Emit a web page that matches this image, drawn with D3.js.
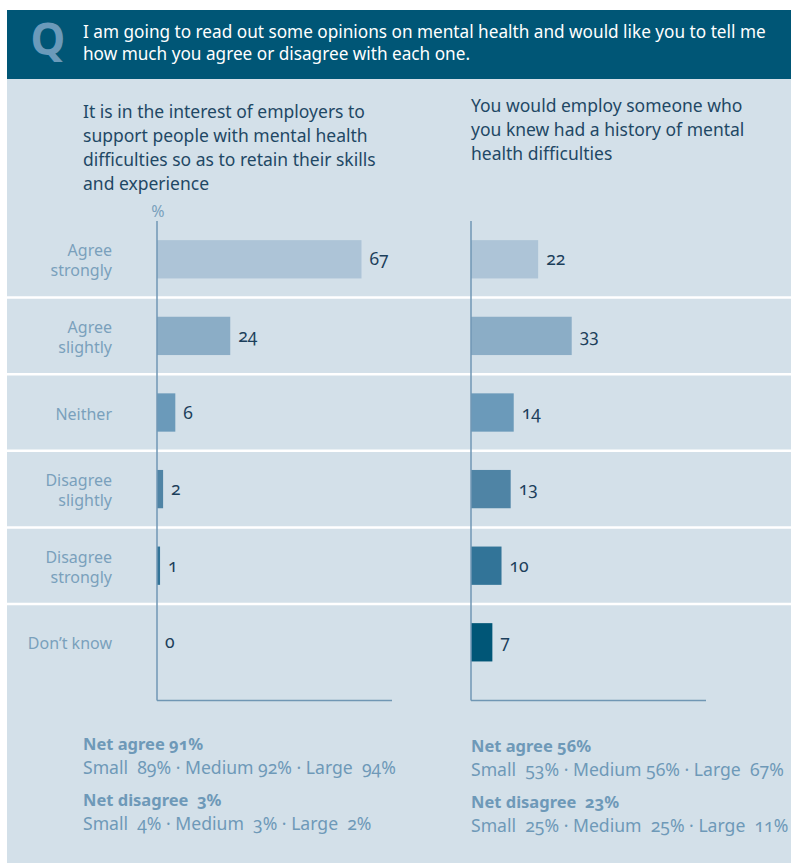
<!DOCTYPE html>
<html>
<head>
<meta charset="utf-8">
<script src="https://cdn.jsdelivr.net/npm/d3@7"></script>
<style>
  html, body { margin: 0; padding: 0; background: #ffffff; }
  svg { display: block; font-family: "Noto Sans", "Open Sans", sans-serif; }
  .num { font-variant-numeric: oldstyle-nums; font-feature-settings: "onum" 1; }
  .pre { white-space: pre; }
</style>
</head>
<body>
<svg id="chart" width="791" height="863"></svg>
<script>
// Survey answers, top to bottom
const categories = ["Agree strongly", "Agree slightly", "Neither", "Disagree slightly", "Disagree strongly", "Don't know"];
const categoryLines = [["Agree", "strongly"], ["Agree", "slightly"], ["Neither"], ["Disagree", "slightly"], ["Disagree", "strongly"], ["Don’t know"]];

// Percentages for each statement
const interestValues = [67, 24, 6, 2, 1, 0];
const employValues = [22, 33, 14, 13, 10, 7];

// Bar shades, light to dark
const barColors = ["#adc4d7", "#8badc6", "#6b9aba", "#4f84a5", "#327498", "#005677"];

const questionLines = [
  "I am going to read out some opinions on mental health and would like you to tell me",
  "how much you agree or disagree with each one."
];
const interestTitle = [
  "It is in the interest of employers to",
  "support people with mental health",
  "difficulties so as to retain their skills",
  "and experience"
];
const employTitle = [
  "You would employ someone who",
  "you knew had a history of mental",
  "health difficulties"
];

// Net scores by company size
const interestNotes = [
  { head: "Net agree 91%", detail: "Small  89% · Medium 92% · Large  94%" },
  { head: "Net disagree  3%", detail: "Small  4% · Medium  3% · Large  2%" }
];
const employNotes = [
  { head: "Net agree 56%", detail: "Small  53% · Medium 56% · Large  67%" },
  { head: "Net disagree  23%", detail: "Small  25% · Medium  25% · Large  11%" }
];

const W = 791, H = 863;
const svg = d3.select("#chart");

const C = {
  header: "#005676",
  panel: "#d3e0e9",
  qLetter: "#6b9aba",
  title: "#1f4865",
  category: "#7aa0bc",
  value: "#1c3f5b",
  axis: "#7097b4",
  note: "#6e99b8"
};

// Background panel and question banner
svg.append("rect").attr("x", 7).attr("y", 79).attr("width", W - 7).attr("height", H - 79).attr("fill", C.panel);
svg.append("rect").attr("x", 7).attr("y", 10).attr("width", W - 7).attr("height", 69).attr("fill", C.header);
svg.append("text").attr("x", 48).attr("y", 55).attr("text-anchor", "middle")
  .attr("font-size", 44).attr("font-weight", 700).attr("fill", C.qLetter).text("Q");
svg.append("g").selectAll("text").data(questionLines).join("text")
  .attr("x", 83).attr("y", (d, i) => 38 + i * 22)
  .attr("font-size", 17.2).attr("fill", "#ffffff").text(d => d);

// Shared vertical scale
const y = d3.scaleBand().domain(categories).range([221, 221 + 6 * 76.6])
  .paddingInner(0.5).paddingOuter(0.25);
const step = y.step();

// Row separators
svg.append("g").selectAll("line").data(categories.slice(1)).join("line")
  .attr("x1", 7).attr("x2", W)
  .attr("y1", d => y(d) - step * 0.25).attr("y2", d => y(d) - step * 0.25)
  .attr("stroke", "#ffffff").attr("stroke-width", 2.5);

// Category labels
const catG = svg.append("g");
categories.forEach((c, i) => {
  const lines = categoryLines[i];
  const cy = y(c) + y.bandwidth() / 2;
  lines.forEach((ln, j) => {
    catG.append("text").attr("x", 112).attr("text-anchor", "end")
      .attr("y", cy + (j - (lines.length - 1) / 2) * 20 + 7)
      .attr("font-size", 16).attr("fill", C.category).text(ln);
  });
});

function drawPanel(x0, textX, values, titleLines, titleY, notes, notesY, showPct) {
  const x = d3.scaleLinear().domain([0, 77]).range([x0, x0 + 235]);
  const g = svg.append("g");

  g.selectAll("text.title").data(titleLines).join("text").attr("class", "title")
    .attr("x", textX)
    .attr("y", (d, i) => titleY + i * 24)
    .attr("font-size", 17.5).attr("fill", C.title).text(d => d);

  if (showPct) {
    g.append("text").attr("x", x(0) + 1).attr("y", 217).attr("text-anchor", "middle")
      .attr("font-size", 16).attr("fill", C.category).text("%");
  }

  g.selectAll("rect.bar").data(values).join("rect").attr("class", "bar")
    .attr("x", x(0)).attr("y", (d, i) => y(categories[i]))
    .attr("width", d => x(d) - x(0)).attr("height", y.bandwidth())
    .attr("fill", (d, i) => barColors[i]);

  g.selectAll("text.val").data(values).join("text").attr("class", "val num")
    .attr("x", d => x(d) + 8)
    .attr("y", (d, i) => y(categories[i]) + y.bandwidth() / 2 + 6)
    .attr("font-size", 17.5).attr("fill", C.value).text(d => d);

  // Axis lines
  const bottom = y.range()[1] + 20;
  g.append("line").attr("x1", x(0)).attr("x2", x(0)).attr("y1", y.range()[0]).attr("y2", bottom)
    .attr("stroke", C.axis).attr("stroke-width", 1.5);
  g.append("line").attr("x1", x(0)).attr("x2", x.range()[1]).attr("y1", bottom).attr("y2", bottom)
    .attr("stroke", C.axis).attr("stroke-width", 1.5);

  notes.forEach((n, i) => {
    g.append("text").attr("class", "num pre").attr("x", textX)
      .attr("y", notesY + i * 56).attr("font-size", 16.5).attr("font-weight", 700)
      .attr("fill", C.note).text(n.head);
    g.append("text").attr("class", "num pre").attr("x", textX)
      .attr("y", notesY + i * 56 + 24).attr("font-size", 17.6)
      .attr("fill", C.note).text(n.detail);
  });
  return g;
}

drawPanel(157, 83, interestValues, interestTitle, 118, interestNotes, 750, true);
drawPanel(471, 471, employValues, employTitle, 112, employNotes, 752, false);
</script>
</body>
</html>
